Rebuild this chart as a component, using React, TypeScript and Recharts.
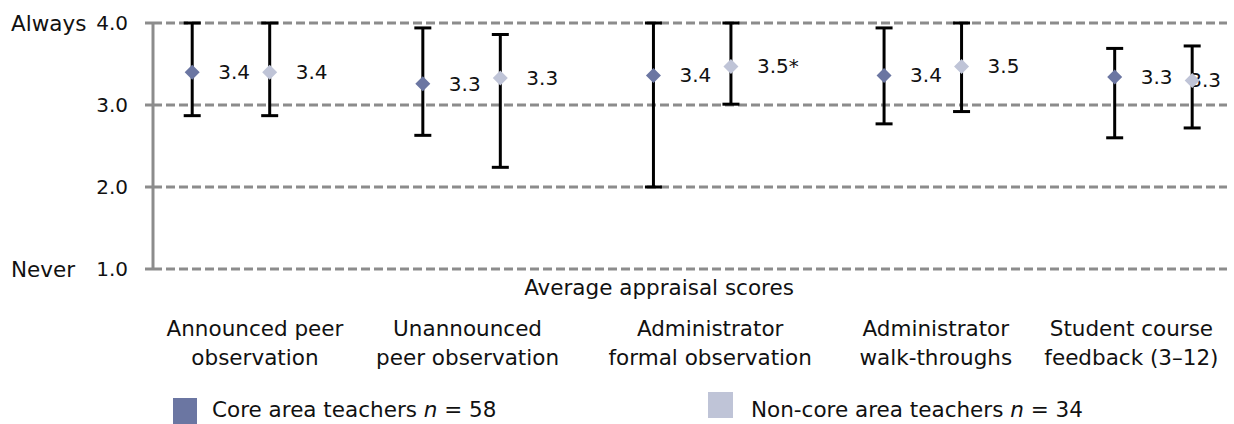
import React from 'react';
import { ComposedChart, Scatter, XAxis, YAxis, CartesianGrid, ErrorBar } from 'recharts';

// ---------- data ----------
const categories = [
  'Announced peer\nobservation',
  'Unannounced\npeer observation',
  'Administrator\nformal observation',
  'Administrator\nwalk-throughs',
  'Student course\nfeedback (3–12)',
];
const coreMean = [3.40, 3.26, 3.36, 3.36, 3.34];
const coreLow = [2.87, 2.63, 2.00, 2.77, 2.60];
const coreHigh = [4.00, 3.94, 4.00, 3.94, 3.69];
const nonCoreMean = [3.40, 3.33, 3.47, 3.47, 3.30];
const nonCoreLow = [2.87, 2.24, 3.01, 2.92, 2.72];
const nonCoreHigh = [4.00, 3.86, 4.00, 4.00, 3.72];
const nonCoreSignificant = [false, false, true, false, false];
const yTicks = [1, 2, 3, 4];
const yEndLabels: Record<number, string> = { 4: 'Always', 1: 'Never' };
const coreLegend = { name: 'Core area teachers', n: 58 };
const nonCoreLegend = { name: 'Non-core area teachers', n: 34 };
const axisTitle = 'Average appraisal scores';

// ---------- layout / style ----------
const FONT = '"DejaVu Sans", sans-serif';
const FS = 21.5;
const FS_NUM = 20;
const CORE_COLOR = '#6B76A2';
const NONCORE_COLOR = '#BFC4D7';
const GRID_COLOR = '#8C8C8C';
const TEXT_COLOR = '#111';
const PAIR_OFFSET = 0.168;
const X_DOMAIN: [number, number] = [-0.338, 4.319];
const LABEL_SHIFT = [24, 6, 18, 13, -22];
const LABEL_RIGHT_LIMIT = 1221;

const coreData = categories.map((c, i) => ({
  x: i - PAIR_OFFSET,
  y: coreMean[i],
  err: [coreMean[i] - coreLow[i], coreHigh[i] - coreMean[i]],
  label: coreMean[i].toFixed(1),
}));
const nonCoreData = categories.map((c, i) => ({
  x: i + PAIR_OFFSET,
  y: nonCoreMean[i],
  err: [nonCoreMean[i] - nonCoreLow[i], nonCoreHigh[i] - nonCoreMean[i]],
  label: nonCoreMean[i].toFixed(1) + (nonCoreSignificant[i] ? '*' : ''),
}));

const makeShape = (color: string) => (props: any) => {
  const { cx, cy, payload } = props;
  if (cx == null || cy == null) return <g />;
  const h = 7.5;
  const label: string = payload.label;
  const estW = label.length * 10.7;
  let tx = cx + 26;
  let anchor: 'start' | 'end' = 'start';
  if (tx + estW > LABEL_RIGHT_LIMIT) {
    tx = LABEL_RIGHT_LIMIT;
    anchor = 'end';
  }
  return (
    <g>
      <text x={tx} y={cy} textAnchor={anchor} dominantBaseline="central" fontFamily={FONT} fontSize={FS_NUM} fill={TEXT_COLOR}>
        {label}
      </text>
      <polygon points={`${cx},${cy - h} ${cx + h},${cy} ${cx},${cy + h} ${cx - h},${cy}`} fill={color} />
    </g>
  );
};

const YTick = (props: any) => {
  const { x, y, payload } = props;
  const end = yEndLabels[payload.value];
  return (
    <g>
      <text x={x} y={y} textAnchor="end" dominantBaseline="central" fontFamily={FONT} fontSize={FS_NUM} fill={TEXT_COLOR}>
        {payload.value.toFixed(1)}
      </text>
      {end && (
        <text x={11} y={y} textAnchor="start" dominantBaseline="central" fontFamily={FONT} fontSize={FS} fill={TEXT_COLOR}>
          {end}
        </text>
      )}
    </g>
  );
};

const XTick = (props: any) => {
  const { x, y, payload } = props;
  const idx = Math.round(payload.value);
  const lines = (categories[idx] || '').split('\n');
  const cxp = x + (LABEL_SHIFT[idx] || 0);
  return (
    <g>
      {lines.map((l, k) => (
        <text key={k} x={cxp} y={y + 59 + k * 29} textAnchor="middle" dominantBaseline="central" fontFamily={FONT} fontSize={FS} fill={TEXT_COLOR}>
          {l}
        </text>
      ))}
    </g>
  );
};

const AxisTitle = (props: any) => {
  const vb = props.viewBox || { x: 153, y: 269, width: 1074 };
  return (
    <text x={vb.x + vb.width / 2 - 31} y={vb.y + 18} textAnchor="middle" dominantBaseline="central" fontFamily={FONT} fontSize={FS} fill={TEXT_COLOR}>
      {axisTitle}
    </text>
  );
};

const LegendItem = ({ left, top, sqTop, sqLeft, sqW, sqH, color, name, n }: any) => (
  <>
    <div style={{ position: 'absolute', left: sqLeft, top: sqTop, width: sqW, height: sqH, background: color }} />
    <div style={{ position: 'absolute', left, top, fontFamily: FONT, fontSize: FS, color: TEXT_COLOR, lineHeight: '26px', whiteSpace: 'nowrap' }}>
      {name} <i>n</i> = {n}
    </div>
  </>
);

export default function App() {
  return (
    <div style={{ position: 'absolute', left: 0, top: 0, width: 1234, height: 424, background: '#fff', overflow: 'hidden' }}>
      <ComposedChart width={1234} height={424} margin={{ top: 23, right: 7, bottom: 55, left: 0 }}>
        <CartesianGrid horizontal vertical={false} stroke={GRID_COLOR} strokeWidth={3} strokeDasharray="9 4" />
        <XAxis
          type="number"
          dataKey="x"
          domain={X_DOMAIN}
          ticks={[0, 1, 2, 3, 4]}
          interval={0}
          axisLine={false}
          tickLine={false}
          tickSize={0}
          tickMargin={0}
          height={100}
          tick={<XTick />}
          label={<AxisTitle />}
          allowDataOverflow
        />
        <YAxis
          type="number"
          dataKey="y"
          domain={[1, 4]}
          ticks={yTicks}
          interval={0}
          width={153}
          axisLine={{ stroke: GRID_COLOR, strokeWidth: 3 }}
          tickLine={{ stroke: GRID_COLOR, strokeWidth: 3 }}
          tickSize={8}
          tickMargin={17}
          tick={<YTick />}
          allowDataOverflow
        />
        <Scatter name="Core" data={coreData} dataKey="y" isAnimationActive={false} shape={makeShape(CORE_COLOR)}>
          <ErrorBar dataKey="err" direction="y" width={8.5} strokeWidth={3} stroke="#000" isAnimationActive={false} />
        </Scatter>
        <Scatter name="Non-core" data={nonCoreData} dataKey="y" isAnimationActive={false} shape={makeShape(NONCORE_COLOR)}>
          <ErrorBar dataKey="err" direction="y" width={8.5} strokeWidth={3} stroke="#000" isAnimationActive={false} />
        </Scatter>
      </ComposedChart>
      <LegendItem left={212} top={397} sqLeft={173} sqTop={398} sqW={24} sqH={26} color={CORE_COLOR} name={coreLegend.name} n={coreLegend.n} />
      <LegendItem left={751} top={397} sqLeft={708} sqTop={392} sqW={25} sqH={26} color={NONCORE_COLOR} name={nonCoreLegend.name} n={nonCoreLegend.n} />
    </div>
  );
}
